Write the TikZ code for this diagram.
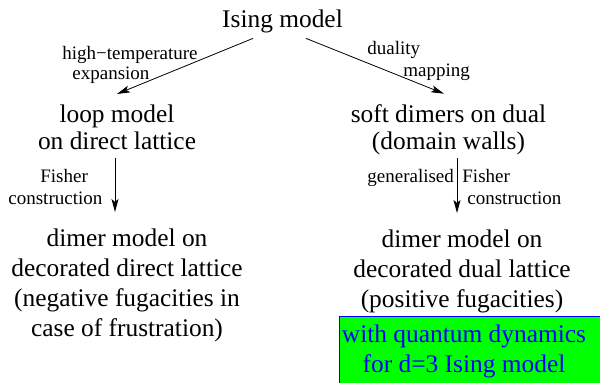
\documentclass[tikz,border=0pt]{standalone}
\usepackage{fontspec}
\setmainfont{Liberation Serif}
\usetikzlibrary{arrows.meta,calc}

\begin{document}
\begin{tikzpicture}[x=1pt,y=1pt,->,>={Stealth[length=13pt,width=7pt,inset=3pt]},
  line width=0.8pt,
  main node/.style={inner sep=0,align=center,anchor=base,font=\fontsize{25.4}{27}\selectfont},
  low node/.style={main node,font=\fontsize{25.4}{30}\selectfont},
  tag node/.style={inner sep=0,anchor=base west,font=\fontsize{19}{19}\selectfont}]

\useasboundingbox (0,0) rectangle (600,383);

\node[main node](I) at (282.5,355) {Ising model};
\node[main node](L) at (117,233) {loop model\\on direct lattice};
\node[main node](S) at (448.5,233) {soft dimers on dual\\(domain walls)};
\node[low node](DL) at (127,46) {dimer model on\\decorated direct lattice\\(negative fugacities in\\case of frustration)};
\node[low node](DD) at (462,75) {dimer model on\\decorated dual lattice\\(positive fugacities)};

% green box
\node[draw=blue,fill=green,line width=1pt,anchor=north west,minimum width=270pt,minimum height=75pt](Q) at (339,67) {};
\node[low node,text=blue](QT) at (464,10) {with quantum dynamics\\for d=3 Ising model};

% arrow labels
\node[tag node](T1) at (62,323) {high−temperature};
\node[tag node](T2) at (72,303) {expansion};
\node[tag node](T3) at (367,328) {duality};
\node[tag node](T4) at (403,306) {mapping};
\node[tag node](F1) at (40,200) {Fisher};
\node[tag node](F2) at (8,178) {construction};
\node[tag node](G1) at (367,200) {generalised};
\node[tag node](G2) at (462,200) {Fisher};
\node[tag node](G3) at (467,178) {construction};

\path
($(I.south)+(-29.5,-4.5)$) edge ($(L.north)+(0,11)$)
($(I.south)+(23.5,-4.5)$) edge ($(S.north)+(-4.5,11)$)
($(L.south)+(-2,-7)$) edge ($(DL.north)+(-12,17)$)
($(S.south)+(8.5,-2.4)$) edge ($(DD.north)+(-5,17)$);
\end{tikzpicture}
\end{document}
